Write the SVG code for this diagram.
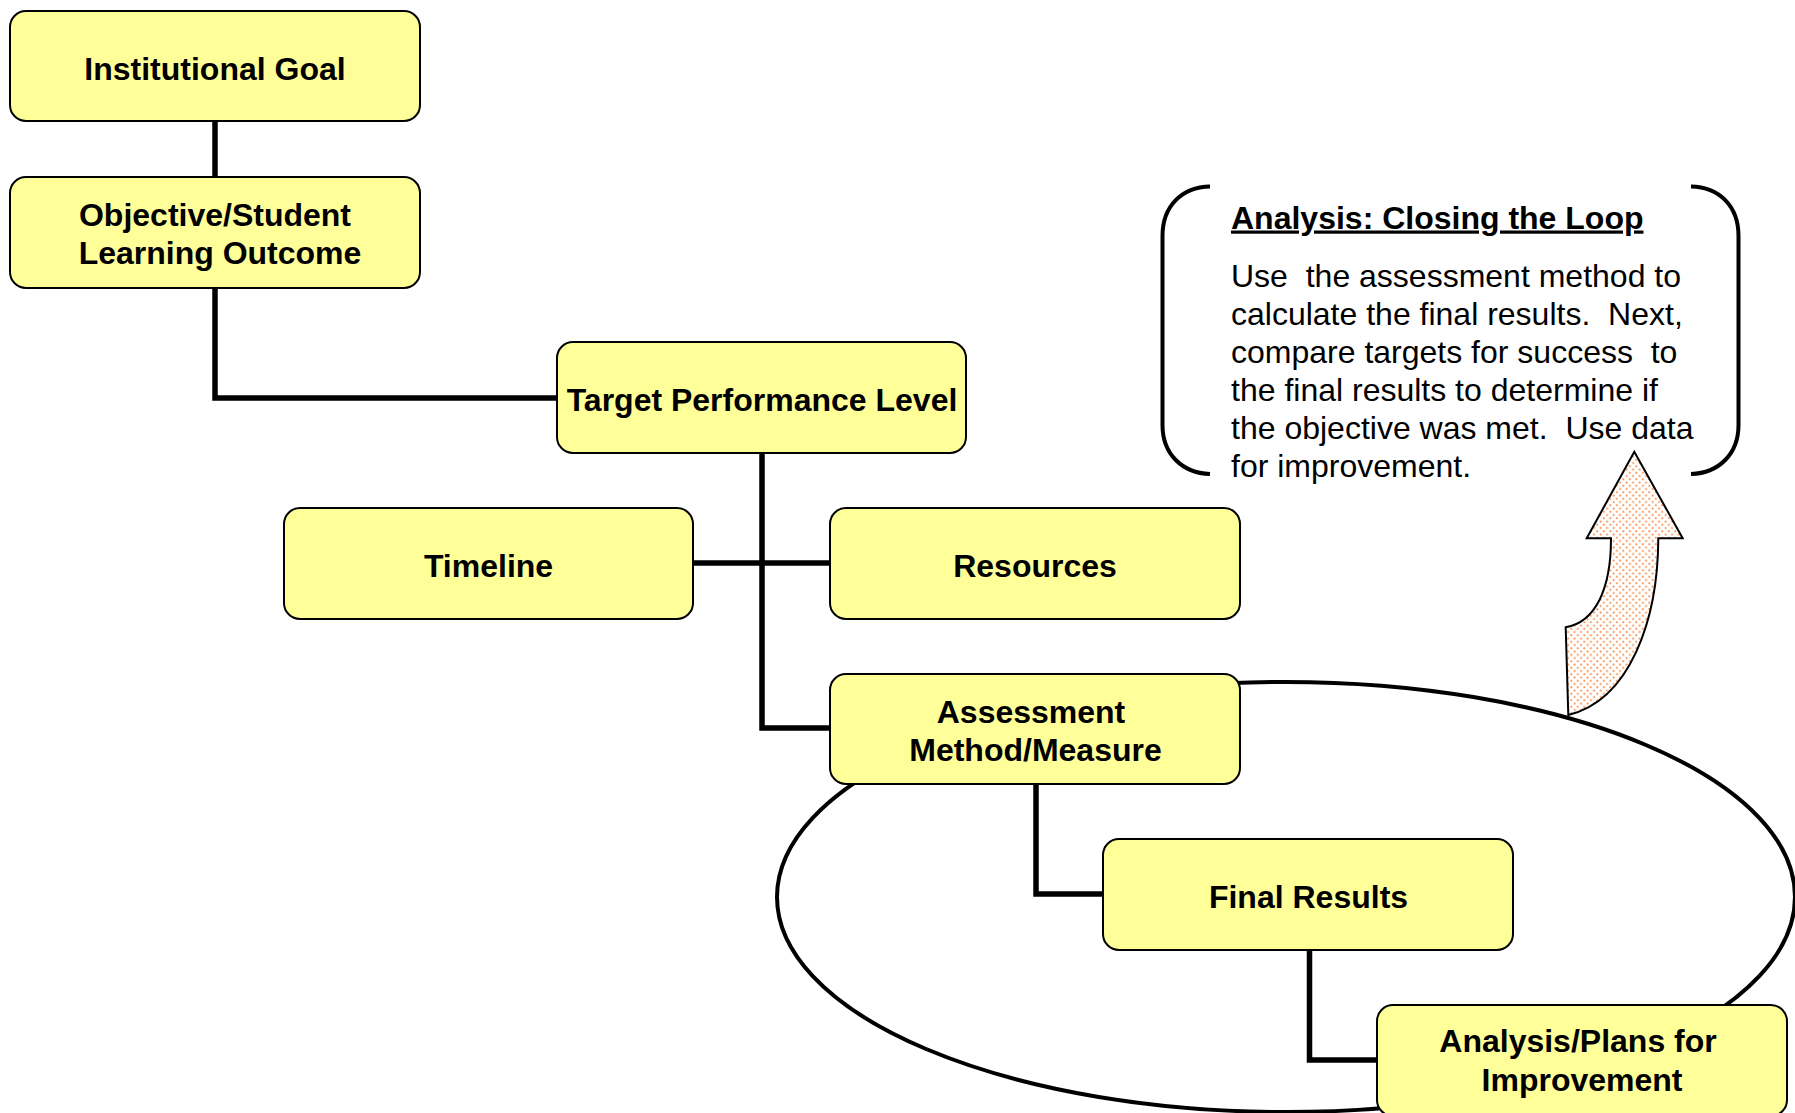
<svg xmlns="http://www.w3.org/2000/svg" width="1795" height="1113" viewBox="0 0 1795 1113">
  <style>
    .box { fill: #FFFF99; stroke: #000; stroke-width: 2; }
    .lbl { font-family: "Liberation Sans", Arial, sans-serif; font-weight: bold; font-size: 32px; fill: #000; text-anchor: middle; }
    .conn { fill: none; stroke: #000; stroke-width: 5.5; stroke-linejoin: miter; stroke-linecap: butt; }
    .body { font-family: "Liberation Sans", Arial, sans-serif; font-size: 32px; fill: #000; white-space: pre; }
    .brk { fill: none; stroke: #000; stroke-width: 4; stroke-linecap: butt; }
  </style>
  <defs>
    <pattern id="dots" width="6.5" height="6.5" patternUnits="userSpaceOnUse">
      <rect width="6.5" height="6.5" fill="#fff"/>
      <circle cx="1.6" cy="1.6" r="1.05" fill="#F8904E"/>
      <circle cx="4.85" cy="4.85" r="1.05" fill="#F8904E"/>
    </pattern>
  </defs>
  <rect width="1795" height="1113" fill="#fff"/>

  <g id="loop-ellipse">
    <ellipse cx="1286" cy="897" rx="509" ry="215" fill="none" stroke="#000" stroke-width="4"/>
  </g>

  <g id="connectors">
    <path class="conn" d="M215,121 V177"/>
    <path class="conn" d="M215,288 V398 H557"/>
    <path class="conn" d="M762,453 V728 H830"/>
    <path class="conn" d="M693,563 H830"/>
    <path class="conn" d="M1036,784 V894 H1103"/>
    <path class="conn" d="M1309.5,950 V1060 H1377"/>
  </g>

  <g id="institutional-goal">
    <rect class="box" x="10" y="11" width="410" height="110" rx="16"/>
    <text class="lbl" x="215" y="80">Institutional Goal</text>
  </g>
  <g id="objective">
    <rect class="box" x="10" y="177" width="410" height="111" rx="16"/>
    <text class="lbl" x="215" y="225.5">Objective/Student</text>
    <text class="lbl" x="220" y="264">Learning Outcome</text>
  </g>
  <g id="target">
    <rect class="box" x="557" y="342" width="409" height="111" rx="16"/>
    <text class="lbl" x="762" y="411">Target Performance Level</text>
  </g>
  <g id="timeline">
    <rect class="box" x="284" y="508" width="409" height="111" rx="16"/>
    <text class="lbl" x="488.5" y="576.5">Timeline</text>
  </g>
  <g id="resources">
    <rect class="box" x="830" y="508" width="410" height="111" rx="16"/>
    <text class="lbl" x="1035" y="576.5">Resources</text>
  </g>
  <g id="assessment">
    <rect class="box" x="830" y="674" width="410" height="110" rx="16"/>
    <text class="lbl" x="1031" y="722.5">Assessment</text>
    <text class="lbl" x="1035.5" y="761">Method/Measure</text>
  </g>
  <g id="final-results">
    <rect class="box" x="1103" y="839" width="410" height="111" rx="16"/>
    <text class="lbl" x="1308.5" y="907.5">Final Results</text>
  </g>
  <g id="analysis-plans">
    <rect class="box" x="1377" y="1005" width="410" height="111" rx="16"/>
    <text class="lbl" x="1578" y="1052">Analysis/Plans for</text>
    <text class="lbl" x="1582" y="1090.5">Improvement</text>
  </g>

  <g id="arrow">
    <path d="M1568.3,715 L1565.7,627.3 C1595,622 1611,590 1611,538.3 L1586.7,538.3 L1634.3,451.7 L1682.7,538.3 L1658.3,538.3 C1658,620 1630,700 1568.3,715 Z" fill="url(#dots)" stroke="#000" stroke-width="2" stroke-linejoin="miter"/>
  </g>

  <g id="callout">
    <path class="brk" d="M1210,186.5 C1182,187 1162.5,206 1162.5,236 L1162.5,425 C1162.5,454 1182,473 1210,474"/>
    <path class="brk" d="M1691,186.5 C1719,187 1738.5,206 1738.5,236 L1738.5,425 C1738.5,454 1719,473 1691,474"/>
    <text class="body" x="1231" y="228.5" font-weight="bold" text-decoration="underline">Analysis: Closing the Loop</text>
    <text class="body" x="1231" y="286.5">Use  the assessment method to</text>
    <text class="body" x="1231" y="324.5">calculate the final results.  Next,</text>
    <text class="body" x="1231" y="362.5">compare targets for success  to</text>
    <text class="body" x="1231" y="401">the final results to determine if</text>
    <text class="body" x="1231" y="439">the objective was met.  Use data</text>
    <text class="body" x="1231" y="477">for improvement.</text>
  </g>
</svg>
